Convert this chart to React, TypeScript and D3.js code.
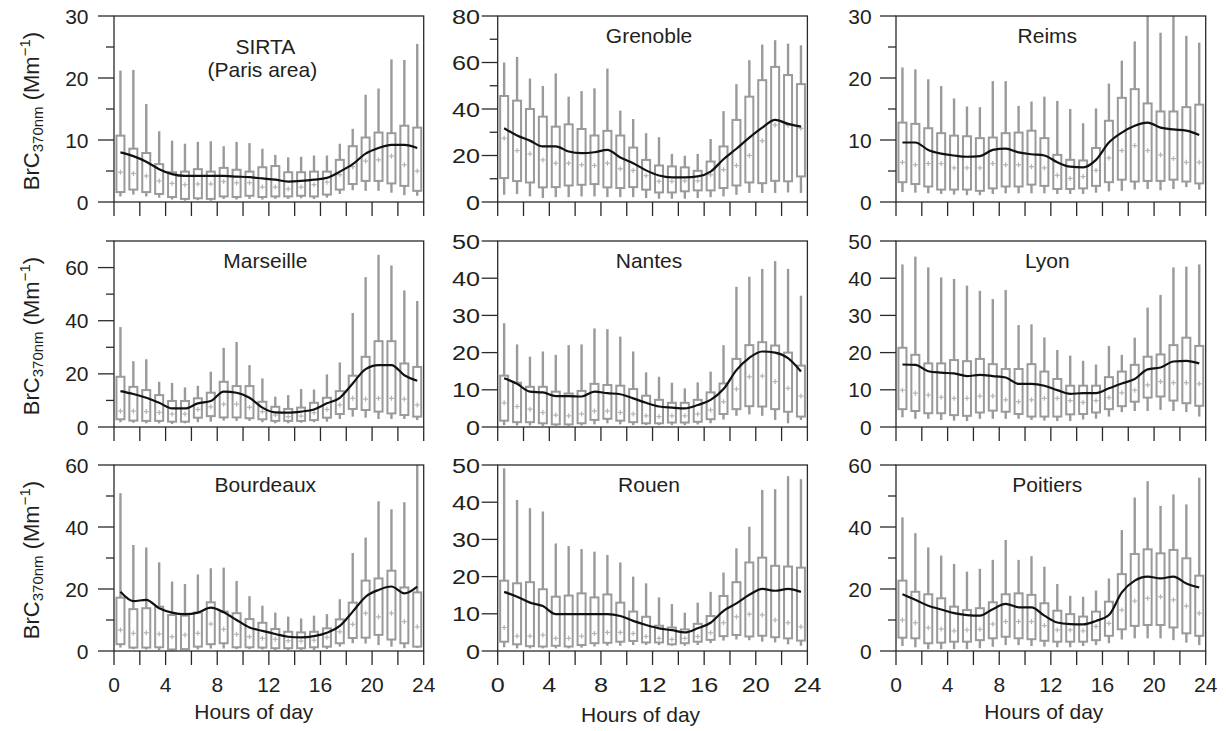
import React from "react";
import * as d3 from "d3";

// Hour-of-day bins (box centres)
const hourBins = [0.5, 1.5, 2.5, 3.5, 4.5, 5.5, 6.5, 7.5, 8.5, 9.5, 10.5, 11.5, 12.5, 13.5, 14.5, 15.5, 16.5, 17.5, 18.5, 19.5, 20.5, 21.5, 22.5, 23.5];
const xTickValues = [0, 2, 4, 6, 8, 10, 12, 14, 16, 18, 20, 22, 24];
const xTickLabels = [0, 4, 8, 12, 16, 20, 24];

// SIRTA (Paris area)
const sirtaHigh = [21.2, 21.3, 15.8, 11.4, 9.9, 9.4, 9.7, 9.8, 9.0, 9.7, 9.5, 8.6, 7.6, 7.2, 7.3, 7.5, 7.5, 9.4, 11.8, 17.3, 18.3, 23.0, 22.9, 25.5];
const sirtaQ3 = [10.7, 8.6, 7.9, 6.1, 4.8, 4.9, 5.3, 4.9, 5.5, 5.2, 4.9, 5.6, 5.8, 4.8, 4.8, 4.9, 4.9, 6.8, 9.0, 10.4, 11.2, 11.1, 12.3, 12.0];
const sirtaMedian = [4.8, 4.6, 4.2, 3.4, 3.0, 2.8, 2.9, 2.9, 3.3, 3.1, 3.1, 2.4, 2.4, 2.1, 2.4, 2.8, 3.2, 4.4, 5.7, 6.6, 6.8, 7.4, 6.0, 5.0];
const sirtaQ1 = [1.6, 2.0, 1.6, 1.3, 0.8, 0.5, 0.6, 0.5, 0.9, 0.8, 1.0, 0.8, 0.9, 0.9, 1.0, 0.9, 1.2, 2.0, 2.9, 3.4, 3.4, 3.0, 2.6, 1.8];
const sirtaLow = [0.9, 1.2, 0.9, 0.7, 0.4, 0.2, 0.3, 0.2, 0.5, 0.4, 0.5, 0.4, 0.5, 0.5, 0.6, 0.5, 0.7, 1.3, 1.9, 1.8, 1.8, 1.5, 1.1, 1.0];
const sirtaMean = [8.0, 7.4, 6.5, 5.3, 4.5, 4.2, 4.2, 4.2, 4.2, 4.1, 4.0, 3.8, 3.6, 3.3, 3.4, 3.6, 3.9, 4.9, 6.1, 7.8, 8.7, 9.2, 9.2, 8.7];

// Grenoble
const grenobleHigh = [60.0, 62.4, 53.1, 49.9, 55.3, 45.3, 47.7, 48.9, 57.4, 39.3, 35.7, 29.6, 27.9, 20.7, 19.9, 20.7, 27.1, 39.1, 50.7, 61.0, 67.7, 69.6, 68.1, 67.4];
const grenobleQ3 = [45.6, 43.6, 40.0, 36.7, 32.4, 33.4, 31.4, 28.6, 30.6, 28.6, 23.4, 18.1, 15.7, 15.3, 14.9, 13.4, 17.4, 23.9, 35.3, 45.3, 52.4, 58.1, 54.6, 50.7];
const grenobleMedian = [27.4, 22.1, 20.7, 18.1, 16.7, 16.7, 16.0, 15.7, 16.7, 14.3, 13.6, 11.3, 8.9, 8.9, 9.1, 9.1, 11.7, 13.9, 15.7, 20.0, 26.3, 33.1, 33.0, 31.7];
const grenobleQ1 = [10.3, 9.0, 8.4, 6.3, 6.4, 7.1, 7.4, 7.7, 6.3, 6.0, 6.4, 5.3, 4.1, 4.1, 4.6, 5.0, 5.0, 6.0, 7.1, 8.4, 8.1, 9.1, 8.9, 11.0];
const grenobleLow = [3.1, 3.4, 2.4, 1.7, 2.1, 2.1, 2.4, 2.4, 2.1, 2.1, 2.1, 1.7, 1.4, 1.4, 1.4, 1.7, 2.1, 2.4, 3.1, 3.9, 3.9, 3.9, 4.1, 3.9];
const grenobleMean = [31.7, 28.6, 26.4, 23.9, 23.9, 21.7, 21.0, 21.4, 22.4, 19.1, 16.7, 13.6, 11.4, 10.6, 10.6, 11.0, 13.1, 18.4, 22.9, 27.7, 32.0, 35.3, 33.6, 32.4];

// Reims
const reimsHigh = [21.7, 21.4, 19.8, 18.7, 16.7, 15.4, 15.3, 19.5, 19.5, 15.5, 16.2, 17.0, 16.3, 15.0, 12.7, 15.1, 19.1, 22.8, 25.9, 30.0, 27.3, 30.0, 26.8, 25.7];
const reimsQ3 = [12.8, 12.6, 11.9, 11.1, 10.7, 10.6, 10.3, 10.4, 11.1, 11.2, 11.5, 10.3, 7.6, 6.8, 6.7, 8.7, 13.1, 16.8, 18.2, 15.9, 14.6, 14.6, 15.3, 15.7];
const reimsMedian = [6.4, 6.0, 6.2, 6.2, 5.5, 5.5, 5.5, 6.2, 6.0, 6.0, 5.7, 5.5, 4.3, 3.8, 4.1, 5.1, 7.1, 8.3, 9.1, 8.3, 7.6, 7.0, 6.4, 6.4];
const reimsQ1 = [3.2, 2.9, 2.5, 2.0, 2.0, 2.0, 1.8, 2.2, 2.5, 2.5, 2.8, 2.6, 2.1, 2.1, 2.2, 2.6, 3.2, 3.6, 3.3, 3.4, 3.4, 3.6, 3.3, 3.0];
const reimsLow = [1.6, 1.5, 1.4, 1.3, 1.2, 1.1, 1.1, 1.3, 1.4, 1.4, 1.4, 1.4, 1.3, 1.3, 1.3, 1.5, 1.7, 1.8, 2.0, 2.1, 1.9, 2.1, 2.4, 2.0];
const reimsMean = [9.6, 9.6, 8.4, 7.8, 7.5, 7.3, 7.4, 8.4, 8.6, 8.0, 7.7, 7.5, 6.4, 5.7, 5.6, 6.8, 9.6, 11.2, 12.3, 12.8, 12.0, 11.7, 11.5, 10.8];

// Marseille
const marseilleHigh = [37.6, 24.8, 25.5, 17.0, 16.6, 14.9, 15.5, 20.8, 29.8, 32.0, 23.3, 18.3, 11.4, 12.0, 14.3, 14.1, 19.8, 24.3, 42.9, 56.4, 64.8, 60.8, 51.4, 47.4];
const marseilleQ3 = [18.9, 15.1, 13.9, 12.0, 9.8, 9.8, 10.8, 12.9, 17.0, 15.4, 15.4, 9.5, 7.6, 6.8, 7.3, 9.1, 11.0, 13.5, 19.3, 26.4, 32.3, 32.3, 23.9, 22.6];
const marseilleMedian = [6.0, 6.0, 5.8, 5.5, 4.9, 4.9, 6.6, 7.6, 8.6, 8.6, 7.4, 5.8, 4.5, 3.9, 4.1, 5.4, 6.6, 8.3, 10.8, 10.5, 10.8, 10.8, 10.5, 8.3];
const marseilleQ1 = [2.9, 2.4, 2.3, 2.3, 2.0, 2.0, 3.5, 4.1, 3.6, 3.6, 3.3, 2.9, 2.3, 2.3, 2.3, 2.6, 3.5, 4.9, 6.8, 6.4, 5.8, 5.1, 4.5, 3.9];
const marseilleLow = [1.8, 1.6, 1.4, 1.4, 1.1, 1.4, 1.8, 2.0, 2.4, 2.3, 2.3, 1.8, 1.4, 1.4, 1.6, 1.8, 2.0, 3.0, 3.9, 3.5, 3.0, 3.0, 3.0, 2.6];
const marseilleMean = [13.5, 12.4, 11.0, 9.1, 7.0, 7.0, 8.9, 9.8, 13.3, 12.9, 11.0, 7.3, 5.5, 5.4, 5.8, 6.6, 8.9, 11.0, 16.4, 21.8, 23.3, 23.3, 19.5, 17.4];

// Nantes
const nantesHigh = [27.9, 22.2, 18.9, 20.3, 19.4, 22.0, 22.2, 26.5, 26.3, 24.3, 20.3, 14.7, 13.5, 11.9, 10.4, 12.0, 14.9, 22.0, 37.7, 40.4, 42.5, 44.6, 42.5, 35.3];
const nantesQ3 = [13.8, 11.9, 10.8, 10.8, 9.5, 9.0, 9.7, 11.6, 11.3, 11.1, 10.2, 8.4, 7.3, 6.5, 6.5, 7.3, 9.3, 11.7, 18.3, 22.0, 22.8, 21.9, 20.0, 16.5];
const nantesMedian = [6.5, 5.5, 4.8, 3.9, 3.2, 3.0, 3.5, 4.3, 4.3, 3.9, 3.5, 3.0, 2.8, 3.0, 3.0, 3.5, 4.6, 6.8, 10.2, 13.5, 13.7, 12.2, 10.4, 8.3];
const nantesQ1 = [1.7, 1.3, 1.3, 1.0, 0.7, 0.7, 1.0, 1.9, 2.2, 1.7, 1.3, 1.0, 1.0, 1.2, 1.2, 1.4, 2.1, 3.5, 4.8, 5.6, 5.5, 4.8, 4.1, 2.8];
const nantesLow = [0.5, 0.4, 0.4, 0.3, 0.3, 0.3, 0.4, 0.7, 1.0, 0.7, 0.5, 0.5, 0.5, 0.5, 0.5, 0.7, 1.0, 2.0, 3.0, 3.4, 3.0, 1.9, 1.0, 1.9];
const nantesMean = [13.1, 11.6, 9.5, 9.3, 8.3, 8.3, 8.2, 9.5, 9.1, 8.8, 7.7, 6.5, 5.5, 5.2, 5.0, 5.9, 7.3, 10.2, 15.3, 18.6, 20.3, 20.0, 18.5, 14.9];

// Lyon
const lyonHigh = [43.7, 45.8, 42.9, 40.2, 39.8, 38.0, 36.6, 34.4, 36.8, 27.4, 27.6, 24.1, 20.7, 19.2, 17.8, 16.8, 21.8, 19.4, 24.0, 32.1, 35.5, 42.9, 43.1, 43.7];
const lyonQ3 = [21.3, 19.4, 17.1, 17.1, 18.0, 17.7, 18.3, 16.9, 15.6, 15.6, 16.9, 14.9, 12.9, 11.1, 11.1, 11.1, 13.4, 14.9, 16.7, 18.9, 19.5, 22.0, 24.0, 21.8];
const lyonMedian = [9.9, 9.1, 8.6, 8.0, 7.7, 7.7, 8.3, 8.3, 7.3, 6.8, 7.3, 7.7, 7.7, 7.1, 6.6, 7.1, 7.9, 9.2, 9.9, 11.3, 12.2, 11.9, 11.9, 11.6];
const lyonQ1 = [4.8, 4.3, 3.7, 3.7, 3.2, 3.0, 3.9, 4.4, 4.1, 3.5, 2.8, 2.8, 2.8, 3.4, 3.5, 3.9, 4.8, 5.6, 6.8, 7.9, 8.2, 7.1, 6.4, 5.7];
const lyonLow = [2.6, 2.2, 2.2, 1.9, 1.7, 1.6, 2.2, 2.2, 2.2, 2.2, 1.9, 1.7, 1.6, 1.6, 2.0, 2.2, 2.8, 4.0, 4.3, 4.3, 4.6, 4.3, 4.0, 2.8];
const lyonMean = [16.8, 16.7, 15.0, 14.6, 14.4, 13.7, 14.0, 13.7, 13.3, 11.6, 11.6, 11.1, 9.9, 8.9, 9.1, 9.1, 10.4, 11.7, 12.9, 15.5, 16.0, 17.6, 17.8, 17.1];

// Bourdeaux
const bourdeauxHigh = [50.9, 34.2, 33.4, 28.6, 22.4, 21.6, 24.7, 26.7, 26.9, 22.6, 17.7, 14.6, 12.4, 11.1, 10.5, 11.4, 11.9, 16.7, 31.6, 36.6, 48.3, 45.7, 48.0, 60.0];
const bourdeauxQ3 = [17.2, 13.5, 13.8, 14.3, 11.6, 11.4, 12.4, 15.7, 12.7, 12.2, 10.3, 9.1, 7.1, 6.2, 6.0, 6.2, 7.3, 10.2, 15.6, 22.7, 23.4, 25.9, 20.5, 18.9];
const bourdeauxMedian = [6.8, 5.7, 5.9, 5.5, 4.6, 5.2, 5.7, 8.7, 7.0, 5.4, 4.6, 4.1, 3.8, 3.3, 3.2, 3.5, 4.4, 6.2, 8.6, 12.2, 11.0, 12.2, 9.5, 7.8];
const bourdeauxQ1 = [2.2, 1.1, 1.1, 1.2, 0.5, 0.6, 1.4, 2.2, 2.5, 1.2, 1.2, 1.1, 0.9, 0.9, 0.9, 1.2, 1.4, 2.5, 4.2, 4.3, 5.2, 3.7, 2.5, 1.4];
const bourdeauxLow = [1.1, 0.6, 0.5, 0.3, 0.1, 0.3, 0.5, 0.8, 0.8, 0.6, 0.6, 0.5, 0.3, 0.3, 0.3, 0.3, 0.6, 1.4, 2.5, 2.4, 1.9, 1.4, 0.9, 1.0];
const bourdeauxMean = [19.1, 16.1, 16.5, 13.8, 12.4, 11.9, 12.4, 14.0, 12.5, 10.0, 7.6, 6.5, 5.5, 4.6, 4.4, 4.8, 5.9, 8.1, 12.7, 17.5, 19.7, 20.8, 18.6, 20.8];

// Rouen
const rouenHigh = [49.1, 40.6, 38.4, 37.5, 28.9, 28.2, 27.4, 26.7, 25.8, 23.8, 20.0, 18.2, 14.4, 12.6, 10.3, 13.0, 15.9, 21.1, 27.6, 33.4, 43.3, 43.5, 47.0, 46.2];
const rouenQ3 = [18.9, 18.2, 18.5, 16.6, 14.6, 14.9, 15.5, 14.4, 15.2, 13.0, 10.6, 9.2, 6.8, 6.3, 5.8, 7.3, 9.4, 14.8, 18.5, 23.8, 25.1, 22.9, 22.7, 22.4];
const rouenMedian = [6.3, 4.0, 4.0, 4.3, 3.4, 3.4, 4.0, 4.7, 5.0, 5.0, 4.7, 3.9, 3.4, 3.1, 3.4, 3.9, 4.9, 7.6, 9.2, 9.9, 9.7, 8.3, 7.6, 6.5];
const rouenQ1 = [2.5, 1.8, 1.3, 1.2, 1.4, 1.2, 1.6, 2.1, 2.2, 2.5, 2.7, 2.3, 2.3, 1.8, 2.1, 2.5, 3.0, 4.0, 4.3, 3.9, 4.1, 3.7, 3.4, 2.8];
const rouenLow = [1.0, 0.7, 0.7, 0.7, 0.7, 0.7, 0.9, 1.2, 1.4, 1.4, 1.6, 1.6, 1.6, 1.4, 1.4, 1.6, 2.1, 2.8, 3.1, 2.9, 2.5, 2.3, 1.8, 1.4];
const rouenMean = [15.9, 14.6, 13.0, 12.1, 9.9, 9.9, 9.9, 9.9, 9.9, 9.4, 8.1, 7.0, 6.1, 5.6, 5.0, 6.1, 7.6, 10.8, 12.8, 15.1, 16.7, 16.2, 16.7, 15.9];

// Poitiers
const poitiersHigh = [43.1, 38.0, 33.4, 30.8, 28.1, 25.6, 26.5, 29.4, 35.8, 29.4, 30.6, 27.2, 21.6, 17.8, 17.5, 19.5, 23.4, 39.0, 49.5, 54.8, 46.8, 50.5, 47.3, 55.9];
const poitiersQ3 = [22.7, 19.1, 18.3, 17.0, 14.3, 13.2, 13.8, 15.7, 18.3, 18.6, 18.1, 15.4, 13.0, 11.9, 11.1, 12.7, 15.9, 24.8, 31.3, 32.8, 31.5, 32.6, 29.9, 24.3];
const poitiersMedian = [10.0, 9.1, 7.5, 7.1, 6.5, 6.8, 7.0, 8.7, 9.5, 9.5, 9.5, 8.2, 6.8, 6.8, 6.5, 7.9, 8.9, 13.2, 16.1, 17.0, 17.5, 16.5, 14.5, 12.2];
const poitiersQ1 = [4.3, 4.1, 2.5, 2.7, 3.0, 3.0, 3.5, 4.1, 4.6, 4.1, 3.8, 3.3, 3.0, 3.0, 3.0, 3.5, 4.9, 7.0, 8.1, 8.4, 8.4, 7.6, 5.7, 4.9];
const poitiersLow = [1.6, 1.2, 0.6, 0.6, 0.6, 0.6, 0.9, 1.4, 1.9, 1.9, 1.6, 1.4, 1.2, 1.2, 1.6, 1.9, 2.5, 3.7, 4.1, 4.1, 4.1, 3.5, 2.7, 1.9];
const poitiersMean = [18.3, 16.5, 14.6, 13.4, 12.2, 11.6, 11.4, 13.5, 15.2, 14.1, 14.1, 11.4, 9.2, 8.7, 8.6, 9.7, 11.6, 18.9, 22.7, 24.0, 23.4, 24.0, 21.8, 20.5];

type Site = {
  title: string[];
  yMax: number;
  major: number;
  minor: number | null;
  high: number[];
  q3: number[];
  median: number[];
  q1: number[];
  low: number[];
  mean: number[];
};

const sites: Site[] = [
  { title: ["SIRTA", "(Paris area)"], yMax: 30, major: 10, minor: 5, high: sirtaHigh, q3: sirtaQ3, median: sirtaMedian, q1: sirtaQ1, low: sirtaLow, mean: sirtaMean },
  { title: ["Grenoble"], yMax: 80, major: 20, minor: 10, high: grenobleHigh, q3: grenobleQ3, median: grenobleMedian, q1: grenobleQ1, low: grenobleLow, mean: grenobleMean },
  { title: ["Reims"], yMax: 30, major: 10, minor: 5, high: reimsHigh, q3: reimsQ3, median: reimsMedian, q1: reimsQ1, low: reimsLow, mean: reimsMean },
  { title: ["Marseille"], yMax: 70, major: 20, minor: 10, high: marseilleHigh, q3: marseilleQ3, median: marseilleMedian, q1: marseilleQ1, low: marseilleLow, mean: marseilleMean },
  { title: ["Nantes"], yMax: 50, major: 10, minor: null, high: nantesHigh, q3: nantesQ3, median: nantesMedian, q1: nantesQ1, low: nantesLow, mean: nantesMean },
  { title: ["Lyon"], yMax: 50, major: 10, minor: null, high: lyonHigh, q3: lyonQ3, median: lyonMedian, q1: lyonQ1, low: lyonLow, mean: lyonMean },
  { title: ["Bourdeaux"], yMax: 60, major: 20, minor: 10, high: bourdeauxHigh, q3: bourdeauxQ3, median: bourdeauxMedian, q1: bourdeauxQ1, low: bourdeauxLow, mean: bourdeauxMean },
  { title: ["Rouen"], yMax: 50, major: 10, minor: null, high: rouenHigh, q3: rouenQ3, median: rouenMedian, q1: rouenQ1, low: rouenLow, mean: rouenMean },
  { title: ["Poitiers"], yMax: 60, major: 20, minor: 10, high: poitiersHigh, q3: poitiersQ3, median: poitiersMedian, q1: poitiersQ1, low: poitiersLow, mean: poitiersMean },
];

// Layout
const WIDTH = 1226;
const HEIGHT = 731;
const colLeft = [114, 497.7, 896];
const rowTop = [16, 241, 465];
const panelW = 309.7;
const panelH = 186;
const tickLabelGap = [25.5, 17.7, 24.3];
const tickLabelStretch = [1, 1.2, 1];
const xTitleShift = [-15, -12, -7];
const xTitleBaseline = [719, 722, 719];

const FONT = "'Liberation Sans', Arial, Helvetica, sans-serif";
const INK = "#231f20";
const FRAME = "#2a2a2a";
const BOX = "#9a9a9a";
const MEDIAN = "#b3b3b3";

function Panel({ site, col, row }: { site: Site; col: number; row: number }) {
  const left = colLeft[col];
  const top = rowTop[row];
  const x = d3.scaleLinear().domain([0, 24]).range([0, panelW]);
  const y = d3.scaleLinear().domain([0, site.yMax]).range([panelH, 0]);
  const majors = d3.range(0, site.yMax + 0.001, site.major);
  const minors = site.minor !== null ? d3.range(site.minor, site.yMax + 0.001, site.major) : [];
  const meanLine = d3
    .line<number>()
    .x((_, i) => x(hourBins[i]))
    .y((d) => y(d))
    .curve(d3.curveMonotoneX);
  const stretch = tickLabelStretch[col];
  const boxHalf = 4;
  const titleX = panelW / 2 - 3.5;

  return (
    <g transform={`translate(${left},${top})`}>
      {/* boxes and whiskers */}
      {hourBins.map((h, i) => {
        const cx = x(h);
        return (
          <g key={i}>
            <line x1={cx} x2={cx} y1={y(site.high[i])} y2={y(site.q3[i])} stroke={BOX} strokeWidth={2.4} />
            <line x1={cx} x2={cx} y1={y(site.q1[i])} y2={y(site.low[i])} stroke={BOX} strokeWidth={2.4} />
            <rect
              x={cx - boxHalf}
              y={y(site.q3[i])}
              width={boxHalf * 2}
              height={y(site.q1[i]) - y(site.q3[i])}
              fill="#fff"
              stroke={BOX}
              strokeWidth={2}
            />
            <line x1={cx - 2.5} x2={cx + 2.5} y1={y(site.median[i])} y2={y(site.median[i])} stroke={MEDIAN} strokeWidth={1.2} />
            <line x1={cx} x2={cx} y1={y(site.median[i]) - 2.5} y2={y(site.median[i]) + 2.5} stroke={MEDIAN} strokeWidth={1.2} />
          </g>
        );
      })}
      {/* hourly mean */}
      <path d={meanLine(site.mean) || ""} fill="none" stroke="#111" strokeWidth={2.2} strokeLinejoin="round" />
      {/* frame */}
      <rect x={0} y={0} width={panelW} height={panelH} fill="none" stroke={FRAME} strokeWidth={1.3} />
      {/* y ticks */}
      {majors.map((v) => (
        <line key={`M${v}`} x1={-16} x2={0} y1={y(v)} y2={y(v)} stroke={FRAME} strokeWidth={1.3} />
      ))}
      {minors.map((v) => (
        <line key={`m${v}`} x1={-8} x2={0} y1={y(v)} y2={y(v)} stroke={FRAME} strokeWidth={1.3} />
      ))}
      {majors.map((v) => (
        <text
          key={`L${v}`}
          transform={`translate(${-tickLabelGap[col]},${y(v)}) scale(${stretch},1)`}
          textAnchor="end"
          dy="0.36em"
          fontFamily={FONT}
          fontSize={21}
          fill={INK}
        >
          {v}
        </text>
      ))}
      {/* x ticks */}
      {xTickValues.map((v) => (
        <line key={`x${v}`} x1={x(v)} x2={x(v)} y1={panelH} y2={panelH + 14} stroke={FRAME} strokeWidth={1.3} />
      ))}
      {row === 2 &&
        xTickLabels.map((v) => (
          <text
            key={`xl${v}`}
            transform={`translate(${x(v)},${panelH + 41}) scale(${stretch},1)`}
            textAnchor="middle"
            fontFamily={FONT}
            fontSize={21}
            fill={INK}
          >
            {v}
          </text>
        ))}
      {/* site name */}
      {site.title.length === 1 ? (
        <text x={titleX} y={27} textAnchor="middle" fontFamily={FONT} fontSize={21} fill={INK}>
          {site.title[0]}
        </text>
      ) : (
        <text textAnchor="middle" fontFamily={FONT} fontSize={21} fill={INK}>
          <tspan x={titleX} y={38}>{site.title[0]}</tspan>
          <tspan x={titleX - 3} y={61}>{site.title[1]}</tspan>
        </text>
      )}
    </g>
  );
}

function YLabel({ cy }: { cy: number }) {
  return (
    <text
      transform={`translate(39,${cy}) rotate(-90)`}
      textAnchor="middle"
      fontFamily={FONT}
      fontSize={22}
      fill={INK}
    >
      BrC
      <tspan fontSize={15} dy={4}>370nm</tspan>
      <tspan dy={-4}> (Mm</tspan>
      <tspan fontSize={15} dy={-9}>−1</tspan>
      <tspan dy={9}>)</tspan>
    </text>
  );
}

export default function App() {
  return (
    <svg
      width={WIDTH}
      height={HEIGHT}
      viewBox={`0 0 ${WIDTH} ${HEIGHT}`}
      style={{ position: "absolute", left: 0, top: 0, background: "#fff" }}
    >
      <rect x={0} y={0} width={WIDTH} height={HEIGHT} fill="#fff" />
      {sites.map((s, i) => (
        <Panel key={i} site={s} col={i % 3} row={Math.floor(i / 3)} />
      ))}
      {rowTop.map((t, r) => (
        <YLabel key={r} cy={t + panelH / 2 + 2} />
      ))}
      {colLeft.map((l, c) => (
        <text
          key={c}
          x={l + panelW / 2 + xTitleShift[c]}
          y={xTitleBaseline[c]}
          textAnchor="middle"
          fontFamily={FONT}
          fontSize={21}
          fill={INK}
        >
          Hours of day
        </text>
      ))}
    </svg>
  );
}
